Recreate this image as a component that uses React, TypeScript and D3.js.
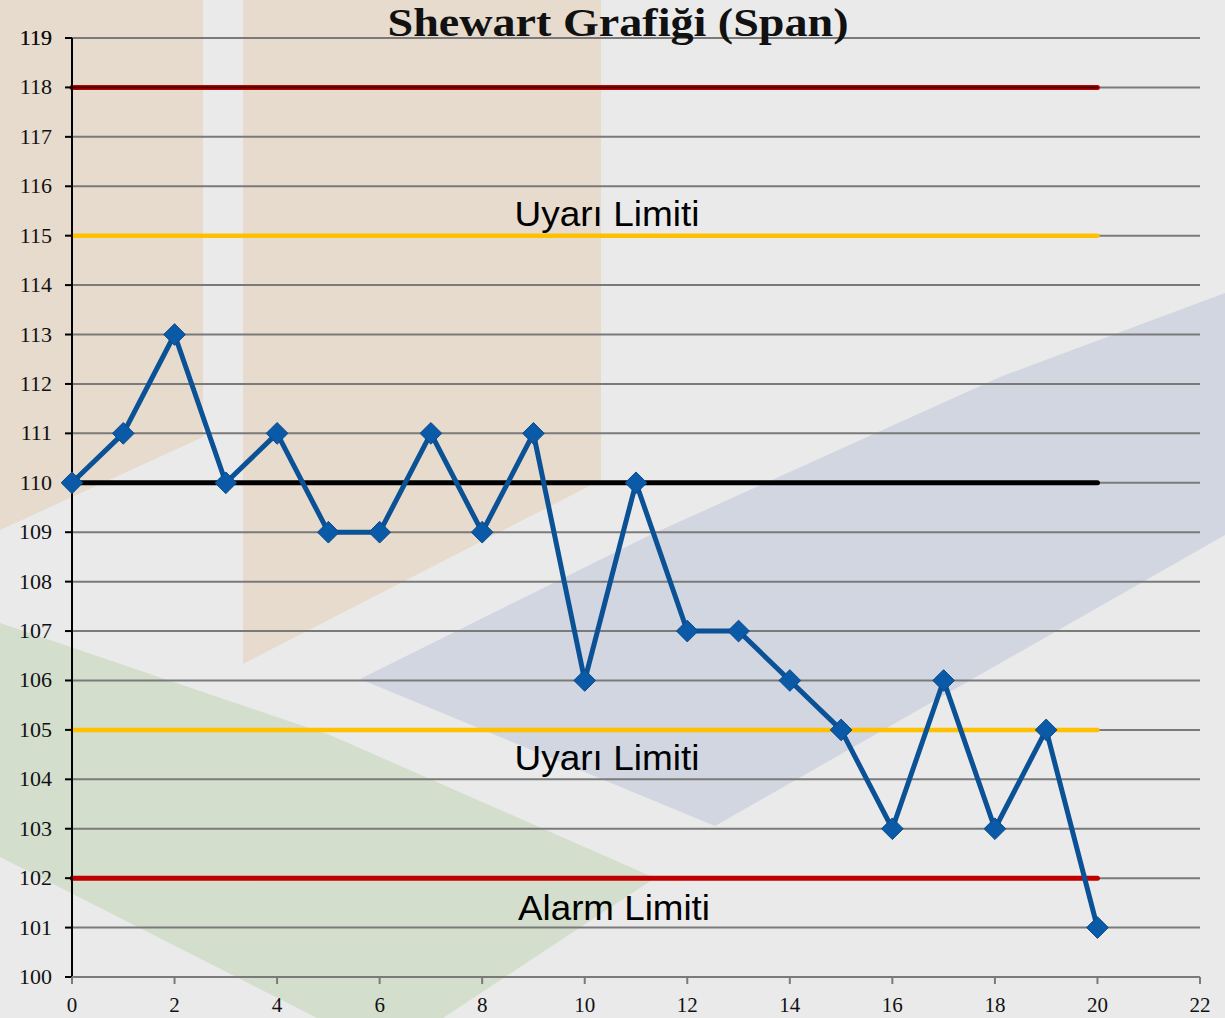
import * as d3 from "d3";

// --- data ---
const samples = [0, 1, 2, 3, 4, 5, 6, 7, 8, 9, 10, 11, 12, 13, 14, 15, 16, 17, 18, 19, 20];
const spanValues = [110, 111, 113, 110, 111, 109, 109, 111, 109, 111, 106, 110, 107, 107, 106, 105, 103, 106, 103, 105, 101];
const limitValues = [118, 115, 110, 105, 102];
const limitKinds = ["alarm", "warn", "center", "warn", "alarm"];
const xTicks = [0, 2, 4, 6, 8, 10, 12, 14, 16, 18, 20, 22];
const yTicks = d3.range(100, 120);
const limitLabels = [
  { text: "Uyarı Limiti", value: 115, dy: -10, cx: 607, len: 185 },
  { text: "Uyarı Limiti", value: 105, dy: 40, cx: 607, len: 185 },
  { text: "Alarm Limiti", value: 102, dy: 42, cx: 614, len: 192 },
];

const W = 1225;
const H = 1018;
const left = 72;
const right = 1200;
const top = 38;
const bottom = 977;

export default function App() {
  const x = d3.scaleLinear().domain([0, 22]).range([left, right]);
  const y = d3.scaleLinear().domain([100, 119]).range([bottom, top]);

  const line = d3
    .line<number>()
    .x((_, i) => x(samples[i]))
    .y((d) => y(d));

  const diamond = d3.symbol().type(d3.symbolDiamond2).size(300);

  // decorative slide background (pixel space, not data)
  const bgShapes = [
    { fill: "#e6dbcc", pts: [[0, 0], [203, 0], [203, 437], [0, 530]] },
    { fill: "#e6dbcc", pts: [[243, 0], [601, 0], [601, 480], [243, 664]] },
    { fill: "#d1d6e1", pts: [[360, 679], [650, 535], [1000, 377], [1225, 293], [1225, 535], [715, 826]] },
    { fill: "#d3dfcc", pts: [[0, 623], [330, 735], [655, 878], [443, 1018], [317, 1018], [0, 857]] },
  ];

  const limitColor = (k: string) =>
    k === "alarm" ? "#c00000" : k === "warn" ? "#ffc000" : "#000000";

  const serif = "'Liberation Serif', 'DejaVu Serif', serif";

  return (
    <svg
      width={W}
      height={H}
      style={{ position: "absolute", left: 0, top: 0, background: "#eaeaea" }}
    >
      <rect width={W} height={H} fill="#eaeaea" />
      {bgShapes.map((s, i) => (
        <polygon key={i} points={s.pts.map((p) => p.join(",")).join(" ")} fill={s.fill} />
      ))}

      {/* gridlines */}
      {yTicks.concat([119]).map((t) => (
        <line key={t} x1={left} x2={right} y1={y(t)} y2={y(t)} stroke="#7a7a7a" strokeWidth={2} />
      ))}

      {/* limit lines */}
      {limitValues.map((v, i) => (
        <g key={i}>
          <line
            x1={x(0)}
            x2={x(20)}
            y1={y(v)}
            y2={y(v)}
            stroke={v === 118 ? "#c00000" : limitColor(limitKinds[i])}
            strokeWidth={limitKinds[i] === "warn" ? 4.5 : 5}
            strokeLinecap="round"
          />
          {v === 118 && (
            <line x1={x(0)} x2={x(20)} y1={y(v)} y2={y(v)} stroke="#3a0000" strokeWidth={2} strokeLinecap="round" />
          )}
        </g>
      ))}

      {limitLabels.map((l, i) => (
        <text
          key={i}
          x={l.cx}
          y={y(l.value) + l.dy}
          textAnchor="middle"
          fontFamily="'Liberation Sans', Arial, sans-serif"
          fontSize={35}
          textLength={l.len}
          lengthAdjust="spacingAndGlyphs"
          fill="#000"
        >
          {l.text}
        </text>
      ))}

      {/* axes */}
      <line x1={left} x2={left} y1={top} y2={bottom} stroke="#000" strokeWidth={2} />
      <line x1={left} x2={right} y1={bottom} y2={bottom} stroke="#7a7a7a" strokeWidth={2} />
      {yTicks.concat([119]).map((t) => (
        <g key={t}>
          <line x1={left - 7} x2={left} y1={y(t)} y2={y(t)} stroke="#000" strokeWidth={2} />
          <text x={52} y={y(t) + 7} textAnchor="end" fontFamily={serif} fontSize={22} fill="#111">
            {t}
          </text>
        </g>
      ))}
      {xTicks.map((t) => (
        <g key={t}>
          <line x1={x(t)} x2={x(t)} y1={bottom} y2={bottom + 7} stroke="#7a7a7a" strokeWidth={2} />
          <text x={x(t)} y={1012} textAnchor="middle" fontFamily={serif} fontSize={21} fill="#111">
            {t}
          </text>
        </g>
      ))}

      {/* series */}
      <path d={line(spanValues) || ""} fill="none" stroke="#0b5196" strokeWidth={5} strokeLinejoin="round" />
      {spanValues.map((v, i) => (
        <path
          key={i}
          d={diamond() || ""}
          transform={`translate(${x(samples[i])},${y(v)})`}
          fill="#0a5aa8"
          stroke="#0b4a8a"
          strokeWidth={1}
        />
      ))}

      <text
        x={618}
        y={36}
        textAnchor="middle"
        fontFamily={serif}
        fontWeight="bold"
        fontSize={41}
        textLength={461}
        lengthAdjust="spacingAndGlyphs"
        fill="#111"
      >
        Shewart Grafiği (Span)
      </text>
    </svg>
  );
}
